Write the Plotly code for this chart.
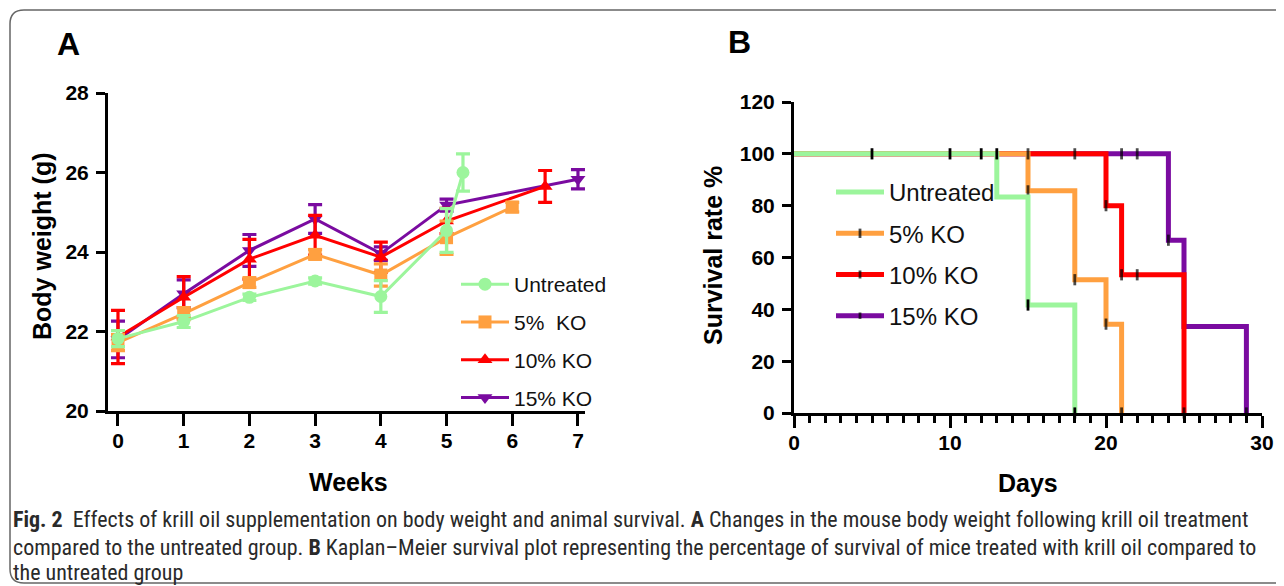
import plotly.graph_objects as go

# page is shown with the browser's default 8px body margin, so the plot div
# starts at (8, 8); positions below are given in window pixels.
W, H = 1284, 586
OFF = 8
DW, DH = W - OFF, H - OFF

# ---------------- Panel A: body weight (g) by week ----------------
names_a = ["Untreated", "5%  KO", "10% KO", "15% KO"]

weeks_untreated = [0, 1, 2, 3, 4, 5, 5.25]
bw_untreated = [21.82, 22.25, 22.86, 23.27, 22.88, 24.54, 26.0]
err_untreated = [0.2, 0.15, 0.08, 0.08, 0.4, 0.55, 0.47]

weeks_ko5 = [0, 1, 2, 3, 4, 5, 6]
bw_ko5 = [21.72, 22.45, 23.23, 23.94, 23.42, 24.36, 25.13]
err_ko5 = [0.2, 0.15, 0.12, 0.12, 0.28, 0.42, 0.12]

weeks_ko10 = [0, 1, 2, 3, 4, 5, 6.5]
bw_ko10 = [21.86, 22.86, 23.82, 24.42, 23.87, 24.78, 25.65]
err_ko10 = [0.67, 0.52, 0.5, 0.5, 0.38, 0.32, 0.4]

weeks_ko15 = [0, 1, 2, 3, 4, 5, 7]
bw_ko15 = [21.8, 22.95, 24.04, 24.83, 23.96, 25.18, 25.83]
err_ko15 = [0.46, 0.35, 0.4, 0.36, 0.17, 0.15, 0.24]

week_ticks = [0, 1, 2, 3, 4, 5, 6, 7]

# ---------------- Panel B: Kaplan-Meier survival (%) ----------------
names_b = ["Untreated", "5% KO", "10% KO", "15% KO"]

days_untreated = [0, 13, 15, 18]
surv_untreated = [100, 83.33, 41.67, 0]
cens_days_untreated = [5, 10, 12, 13, 15, 18]
cens_surv_untreated = [100, 100, 100, 100, 41.67, 0]

days_ko5 = [0, 15, 15, 18, 20, 21]
surv_ko5 = [100, 100, 85.71, 51.43, 34.29, 0]
cens_ko5 = [0, 1, 1, 1, 1, 1]

days_ko10 = [0, 18, 20, 20, 21, 22, 25]
surv_ko10 = [100, 100, 100, 80, 53.33, 53.33, 0]
cens_ko10 = [0, 1, 0, 1, 1, 1, 1]

days_ko15 = [0, 21, 22, 24, 24, 25, 29]
surv_ko15 = [100, 100, 100, 100, 66.67, 33.33, 0]
cens_ko15 = [0, 1, 1, 0, 1, 0, 1]

caption_lines = [
    "<b>Fig. 2</b>  Effects of krill oil supplementation on body weight and animal survival. <b>A</b> Changes in the mouse body weight following krill oil treatment",
    "compared to the untreated group. <b>B</b> Kaplan–Meier survival plot representing the percentage of survival of mice treated with krill oil compared to",
    "the untreated group",
]

# ---------------- styling ----------------
GREEN = "#9CF59C"
ORANGE = "#FFA040"
RED = "#FF0000"
PURPLE = "#7A0BA0"
FONT = "Liberation Sans, Arial, sans-serif"
CAP_FONT = "Liberation Sans Narrow, Roboto Condensed, Arial Narrow, sans-serif"


def px(x):
    return (x - OFF) / DW


def py(y):
    return 1 - (y - OFF) / DH


fig = go.Figure()

series_a = [
    (names_a[3], weeks_ko15, bw_ko15, err_ko15, PURPLE, "triangle-down", 3),
    (names_a[2], weeks_ko10, bw_ko10, err_ko10, RED, "triangle-up", 2),
    (names_a[1], weeks_ko5, bw_ko5, err_ko5, ORANGE, "square", 1),
    (names_a[0], weeks_untreated, bw_untreated, err_untreated, GREEN, "circle", 0),
]
for name, xs, ys, es, col, sym, rank in series_a:
    fig.add_trace(go.Scatter(
        x=xs, y=ys, name=name, mode="lines+markers",
        line=dict(color=col, width=3),
        marker=dict(symbol=sym, size=13, color=col),
        error_y=dict(type="data", array=es, color=col, thickness=3.2, width=7),
        xaxis="x", yaxis="y", legend="legend", legendgroup="a" + str(rank),
        legendrank=rank, cliponaxis=False,
    ))

# Panel B traces (drawn purple first so green ends on top)
series_b = [
    (names_b[3], days_ko15, surv_ko15, cens_ko15, PURPLE, 3),
    (names_b[2], days_ko10, surv_ko10, cens_ko10, RED, 2),
    (names_b[1], days_ko5, surv_ko5, cens_ko5, ORANGE, 1),
]
for name, xs, ys, cs, col, rank in series_b:
    fig.add_trace(go.Scatter(
        x=xs, y=ys, name=name, mode="lines+markers",
        line=dict(color=col, width=5, shape="hv"),
        marker=dict(symbol="line-ns", size=[8 if c else 0 for c in cs],
                    color="black", line=dict(color="black", width=2.8)),
        xaxis="x2", yaxis="y2", legend="legend2", legendgroup="b" + str(rank),
        legendrank=rank, cliponaxis=False,
    ))

fig.add_trace(go.Scatter(
    x=days_untreated, y=surv_untreated, name=names_b[0], mode="lines",
    line=dict(color=GREEN, width=5, shape="hv"),
    xaxis="x2", yaxis="y2", legend="legend2", legendgroup="b0", legendrank=0,
))
fig.add_trace(go.Scatter(
    x=cens_days_untreated, y=cens_surv_untreated, mode="markers", showlegend=False,
    marker=dict(symbol="line-ns", size=8, color="black", line=dict(color="black", width=2.8)),
    xaxis="x2", yaxis="y2", cliponaxis=False,
))

tickfont = dict(family=FONT, size=21, color="black", weight="bold")
axis_common = dict(showline=True, linecolor="black", linewidth=3, ticks="outside",
                   tickcolor="black", tickwidth=3, showgrid=False, zeroline=False,
                   tickfont=tickfont, automargin=False)

fig.update_layout(
    width=DW, height=DH,
    margin=dict(l=0, r=0, t=0, b=0, pad=0, autoexpand=False),
    paper_bgcolor="white", plot_bgcolor="white",
    xaxis=dict(domain=[px(108), px(585)], range=[-0.152, 7.107], tickvals=week_ticks,
               ticklen=12, anchor="y", ticklabelstandoff=-3, **axis_common),
    yaxis=dict(domain=[py(411), py(93)], range=[20, 28], dtick=2, ticklen=9,
               anchor="x", ticklabelstandoff=3, **axis_common),
    xaxis2=dict(domain=[px(794), px(1262)], range=[0, 30], dtick=10, ticklen=12,
                minor=dict(dtick=1, ticklen=7, tickwidth=2.5, ticks="outside", tickcolor="black"),
                anchor="y2", ticklabelstandoff=-3, **axis_common),
    yaxis2=dict(domain=[py(413), py(102)], range=[0, 120], dtick=20, ticklen=9,
                anchor="x2", ticklabelstandoff=3, **axis_common),
    legend=dict(x=px(456), y=py(264), xanchor="left", yanchor="top",
                font=dict(family=FONT, size=21, color="#111"), bgcolor="rgba(0,0,0,0)",
                tracegroupgap=7.5, itemwidth=48),
    legend2=dict(x=px(831), y=py(170), xanchor="left", yanchor="top",
                 font=dict(family=FONT, size=24, color="#111"), bgcolor="rgba(0,0,0,0)",
                 tracegroupgap=7, itemwidth=48),
    showlegend=True,
)

ann = []


def label(text, x, y, size, angle=0):
    ann.append(dict(text=text, x=px(x), y=py(y), xref="paper", yref="paper",
                    xanchor="center", yanchor="middle", showarrow=False, textangle=angle,
                    font=dict(family=FONT, size=size, color="black")))


label("<b>A</b>", 68, 44, 32)
label("<b>B</b>", 739, 42, 32)
label("<b>Body weight (g)</b>", 42, 247, 25, -90)
label("<b>Weeks</b>", 348, 482, 25)
label("<b>Survival rate %</b>", 713, 256, 25, -90)
label("<b>Days</b>", 1028, 483, 25)
for line, yy in zip(caption_lines, [519, 547, 572]):
    ann.append(dict(text=line, x=px(11), y=py(yy), xref="paper", yref="paper",
                    xanchor="left", yanchor="middle", showarrow=False,
                    font=dict(family=CAP_FONT, size=22, color="#2a2a2a")))
fig.update_layout(annotations=ann)

# rounded frame around the figure (right side runs off the page)
r = 14
x0, y0, y1 = 10, 10, 583
path = (f"M {px(W + 20)},{py(y0)} L {px(x0 + r)},{py(y0)} "
        f"Q {px(x0)},{py(y0)} {px(x0)},{py(y0 + r)} "
        f"L {px(x0)},{py(y1 - r)} Q {px(x0)},{py(y1)} {px(x0 + r)},{py(y1)} "
        f"L {px(W + 20)},{py(y1)}")
fig.add_shape(type="path", path=path, xref="paper", yref="paper",
              line=dict(color="#666", width=1.5), layer="below")

fig.write_html("out.html")
